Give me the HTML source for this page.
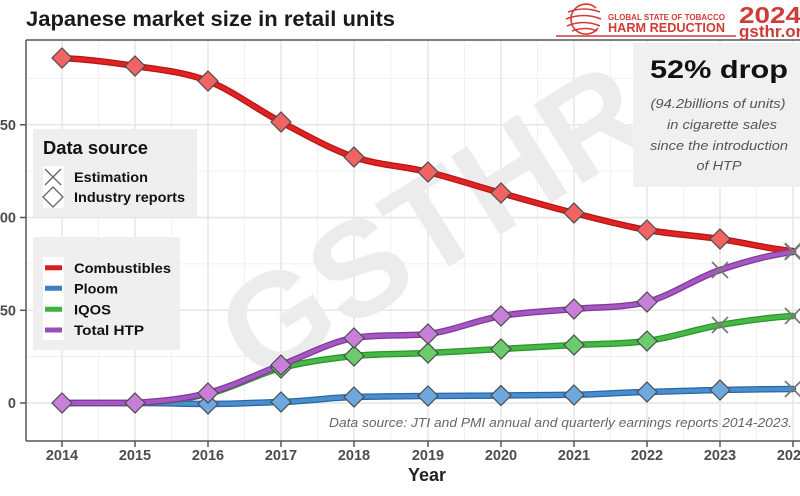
<!DOCTYPE html>
<html><head><meta charset="utf-8"><style>
html,body{margin:0;padding:0;background:#fff;}
svg{display:block;font-family:"Liberation Sans",Arial,sans-serif;}
</style></head><body>
<svg width="800" height="496" viewBox="0 0 800 496" xmlns="http://www.w3.org/2000/svg">
<rect width="800" height="496" fill="#fff"/>
<!-- grid minor -->
<g stroke="#f1f1f1" stroke-width="1">
<line x1="98.5" y1="40" x2="98.5" y2="441"/><line x1="171.5" y1="40" x2="171.5" y2="441"/><line x1="244.5" y1="40" x2="244.5" y2="441"/><line x1="317.5" y1="40" x2="317.5" y2="441"/><line x1="391" y1="40" x2="391" y2="441"/><line x1="464.5" y1="40" x2="464.5" y2="441"/><line x1="537.5" y1="40" x2="537.5" y2="441"/><line x1="610.5" y1="40" x2="610.5" y2="441"/><line x1="683.5" y1="40" x2="683.5" y2="441"/><line x1="756.5" y1="40" x2="756.5" y2="441"/>
<line x1="26" y1="356.6" x2="800" y2="356.6"/><line x1="26" y1="263.9" x2="800" y2="263.9"/><line x1="26" y1="171.1" x2="800" y2="171.1"/><line x1="26" y1="78.4" x2="800" y2="78.4"/>
</g>
<!-- grid major -->
<g stroke="#e4e4e4" stroke-width="1.4">
<line x1="62" y1="40" x2="62" y2="441"/><line x1="135" y1="40" x2="135" y2="441"/><line x1="208" y1="40" x2="208" y2="441"/><line x1="281" y1="40" x2="281" y2="441"/><line x1="354" y1="40" x2="354" y2="441"/><line x1="428" y1="40" x2="428" y2="441"/><line x1="501" y1="40" x2="501" y2="441"/><line x1="574" y1="40" x2="574" y2="441"/><line x1="647" y1="40" x2="647" y2="441"/><line x1="720" y1="40" x2="720" y2="441"/><line x1="793" y1="40" x2="793" y2="441"/>
<line x1="26" y1="403" x2="800" y2="403"/><line x1="26" y1="310.3" x2="800" y2="310.3"/><line x1="26" y1="217.5" x2="800" y2="217.5"/><line x1="26" y1="124.8" x2="800" y2="124.8"/>
</g>
<!-- watermark -->
<text transform="translate(432,221) rotate(-32)" x="0" y="48" text-anchor="middle" font-size="135" font-weight="bold" fill="#ececec">GSTHR</text>

<!-- annotation box -->
<rect x="633" y="43" width="167" height="144" fill="#f0f0f0"/>
<text x="719" y="78" text-anchor="middle" font-size="25" font-weight="bold" fill="#111" textLength="138" lengthAdjust="spacingAndGlyphs">52% drop</text>
<g font-size="12.5" font-style="italic" fill="#555" text-anchor="middle">
<text x="718" y="108" textLength="135" lengthAdjust="spacingAndGlyphs">(94.2billions of units)</text>
<text x="722" y="129" textLength="110" lengthAdjust="spacingAndGlyphs">in cigarette sales</text>
<text x="719" y="150" textLength="138" lengthAdjust="spacingAndGlyphs">since the introduction</text>
<text x="719" y="170" textLength="45" lengthAdjust="spacingAndGlyphs">of HTP</text>
</g>

<!-- legend 1 -->
<rect x="33" y="129" width="164" height="88" fill="#efefef"/>
<text x="43" y="154" font-size="18" font-weight="bold" fill="#111" textLength="105" lengthAdjust="spacingAndGlyphs">Data source</text>
<rect x="43" y="166" width="21" height="42" fill="#fff"/>
<g stroke="#666" stroke-width="1.3" fill="none">
<line x1="45" y1="169" x2="61" y2="185"/><line x1="61" y1="169" x2="45" y2="185"/>
<polygon points="53,187 63,197 53,207 43,197" fill="#fff"/>
</g>
<g font-size="14" font-weight="bold" fill="#111">
<text x="74" y="182" textLength="74" lengthAdjust="spacingAndGlyphs">Estimation</text>
<text x="74" y="202" textLength="111" lengthAdjust="spacingAndGlyphs">Industry reports</text>
</g>

<!-- legend 2 -->
<rect x="33" y="237" width="147" height="113" fill="#efefef"/>
<rect x="43" y="257" width="21" height="83" fill="#fff"/>
<g stroke-width="5" stroke-linecap="butt">
<line x1="45" y1="267.7" x2="62" y2="267.7" stroke="#d81e1e"/>
<line x1="45" y1="288.3" x2="62" y2="288.3" stroke="#3f7fbf"/>
<line x1="45" y1="309.3" x2="62" y2="309.3" stroke="#3db23d"/>
<line x1="45" y1="330" x2="62" y2="330" stroke="#9a4db5"/>
</g>
<g font-size="14" font-weight="bold" fill="#111">
<text x="74" y="273" textLength="97" lengthAdjust="spacingAndGlyphs">Combustibles</text>
<text x="74" y="293.5" textLength="44" lengthAdjust="spacingAndGlyphs">Ploom</text>
<text x="74" y="314.5" textLength="37" lengthAdjust="spacingAndGlyphs">IQOS</text>
<text x="74" y="335" textLength="70" lengthAdjust="spacingAndGlyphs">Total HTP</text>
</g>

<!-- data note -->
<text x="792" y="427" text-anchor="end" font-size="12.5" font-style="italic" fill="#666" textLength="463" lengthAdjust="spacingAndGlyphs">Data source: JTI and PMI annual and quarterly earnings reports 2014-2023.</text>

<!-- series lines -->
<g fill="none" stroke-linecap="round" stroke-linejoin="round">
<path d="M62,58 C86.4,59.3 110.6,62.2 135,66 C159.4,69.8 183.6,71.7 208,81 C232.4,90.3 256.6,109.3 281,122 C305.4,134.7 329.6,148.7 354,157 C378.4,165.3 403.6,166 428,172 C452.4,178 476.6,186.2 501,193 C525.4,199.8 549.6,206.8 574,213 C598.4,219.2 622.6,225.7 647,230 C671.4,234.3 695.6,235.5 720,239 C744.4,242.5 768.6,249 793,251" stroke="#b51515" stroke-width="6.5"/>
<path d="M62,58 C86.4,59.3 110.6,62.2 135,66 C159.4,69.8 183.6,71.7 208,81 C232.4,90.3 256.6,109.3 281,122 C305.4,134.7 329.6,148.7 354,157 C378.4,165.3 403.6,166 428,172 C452.4,178 476.6,186.2 501,193 C525.4,199.8 549.6,206.8 574,213 C598.4,219.2 622.6,225.7 647,230 C671.4,234.3 695.6,235.5 720,239 C744.4,242.5 768.6,249 793,251" stroke="#e02222" stroke-width="4"/>

<path d="M62,403 L135,403 C170,403 180,404 208,404 C240,404 255,402.5 281,402 C310,401 330,397.5 354,397 C380,396.5 400,396 428,396 C460,396 480,395.8 501,395.5 C530,395.2 550,395 574,394.8 C600,394.5 620,392.5 647,392 C680,391.2 700,390.3 720,390 C750,389.6 770,389 793,389" stroke="#2b66a3" stroke-width="6.5"/>
<path d="M62,403 L135,403 C170,403 180,404 208,404 C240,404 255,402.5 281,402 C310,401 330,397.5 354,397 C380,396.5 400,396 428,396 C460,396 480,395.8 501,395.5 C530,395.2 550,395 574,394.8 C600,394.5 620,392.5 647,392 C680,391.2 700,390.3 720,390 C750,389.6 770,389 793,389" stroke="#4a8ed0" stroke-width="4"/>

<path d="M62,403 C86.4,403 110.6,403 135,403 C159.4,401.5 183.6,399.8 208,394 C232.4,388.2 256.6,374.3 281,368 C305.4,361.7 329.6,358.5 354,356 C378.4,353.5 403.6,354.2 428,353 C452.4,351.8 476.6,350.3 501,349 C525.4,347.7 549.6,346.3 574,345 C598.4,343.7 622.6,344.3 647,341 C671.4,337.7 695.6,329.2 720,325 C744.4,320.8 768.6,317.5 793,316" stroke="#2d942d" stroke-width="6.5"/>
<path d="M62,403 C86.4,403 110.6,403 135,403 C159.4,401.5 183.6,399.8 208,394 C232.4,388.2 256.6,374.3 281,368 C305.4,361.7 329.6,358.5 354,356 C378.4,353.5 403.6,354.2 428,353 C452.4,351.8 476.6,350.3 501,349 C525.4,347.7 549.6,346.3 574,345 C598.4,343.7 622.6,344.3 647,341 C671.4,337.7 695.6,329.2 720,325 C744.4,320.8 768.6,317.5 793,316" stroke="#45b845" stroke-width="4"/>

<path d="M62,403 C86.4,403 110.6,403 135,403 C159.4,401.3 183.6,399.3 208,393 C232.4,386.7 256.6,374.2 281,365 C305.4,355.8 329.6,342 354,338 C378.4,334 403.6,336.5 428,334 C452.4,331 476.6,320.2 501,316 C525.4,311.8 549.6,311.3 574,309 C598.4,306.7 622.6,308 647,302 C671.4,295.5 695.6,278.3 720,270 C744.4,261.7 768.6,255 793,252" stroke="#7f3a99" stroke-width="6.5"/>
<path d="M62,403 C86.4,403 110.6,403 135,403 C159.4,401.3 183.6,399.3 208,393 C232.4,386.7 256.6,374.2 281,365 C305.4,355.8 329.6,342 354,338 C378.4,334 403.6,336.5 428,334 C452.4,331 476.6,320.2 501,316 C525.4,311.8 549.6,311.3 574,309 C598.4,306.7 622.6,308 647,302 C671.4,295.5 695.6,278.3 720,270 C744.4,261.7 768.6,255 793,252" stroke="#a557c2" stroke-width="4"/>
</g>

<!-- markers -->
<g stroke="#4a4a4a" stroke-width="1.2">
<!-- combustibles -->
<g fill="#f26464">
<polygon points="62,48 72,58 62,68 52,58"/><polygon points="135,56 145,66 135,76 125,66"/><polygon points="208,71 218,81 208,91 198,81"/><polygon points="281,112 291,122 281,132 271,122"/><polygon points="354,147 364,157 354,167 344,157"/><polygon points="428,162 438,172 428,182 418,172"/><polygon points="501,183 511,193 501,203 491,193"/><polygon points="574,203 584,213 574,223 564,213"/><polygon points="647,220 657,230 647,240 637,230"/><polygon points="720,229 730,239 720,249 710,239"/>
</g>
<!-- ploom -->
<g fill="#6ea8e0">
<polygon points="208,394 218,404 208,414 198,404"/><polygon points="281,392 291,402 281,412 271,402"/><polygon points="354,387 364,397 354,407 344,397"/><polygon points="428,386 438,396 428,406 418,396"/><polygon points="501,385.5 511,395.5 501,405.5 491,395.5"/><polygon points="574,385 584,395 574,405 564,395"/><polygon points="647,382 657,392 647,402 637,392"/><polygon points="720,380 730,390 720,400 710,390"/>
</g>
<!-- iqos -->
<g fill="#6bcc6b">
<polygon points="281,358 291,368 281,378 271,368"/><polygon points="354,346 364,356 354,366 344,356"/><polygon points="428,343 438,353 428,363 418,353"/><polygon points="501,339 511,349 501,359 491,349"/><polygon points="574,335 584,345 574,355 564,345"/><polygon points="647,331 657,341 647,351 637,341"/>
</g>
<!-- htp -->
<g fill="#c77fd9">
<polygon points="62,393 72,403 62,413 52,403"/><polygon points="135,393 145,403 135,413 125,403"/><polygon points="208,383 218,393 208,403 198,393"/><polygon points="281,355 291,365 281,375 271,365"/><polygon points="354,328 364,338 354,348 344,338"/><polygon points="428,324 438,334 428,344 418,334"/><polygon points="501,306 511,316 501,326 491,316"/><polygon points="574,299 584,309 574,319 564,309"/><polygon points="647,292 657,302 647,312 637,302"/>
</g>
</g>
<!-- X markers -->
<g stroke="#7a7a7a" stroke-width="1.8">
<path d="M785,243 L801,259 M801,243 L785,259"/>
<path d="M785,381 L801,397 M801,381 L785,397"/>
<path d="M712,317 L728,333 M728,317 L712,333"/>
<path d="M785,308 L801,324 M801,308 L785,324"/>
<path d="M712,262 L728,278 M728,262 L712,278"/>
<path d="M785,244 L801,260 M801,244 L785,260"/>
</g>

<!-- axes -->
<g stroke="#555" stroke-width="1.5">
<line x1="26" y1="40" x2="800" y2="40"/>
<line x1="26" y1="40" x2="26" y2="441"/>
<line x1="26" y1="441" x2="800" y2="441"/>
<line x1="20" y1="403" x2="26" y2="403"/><line x1="20" y1="310.3" x2="26" y2="310.3"/><line x1="20" y1="217.5" x2="26" y2="217.5"/><line x1="20" y1="124.8" x2="26" y2="124.8"/>
<line x1="62" y1="441" x2="62" y2="447"/><line x1="135" y1="441" x2="135" y2="447"/><line x1="208" y1="441" x2="208" y2="447"/><line x1="281" y1="441" x2="281" y2="447"/><line x1="354" y1="441" x2="354" y2="447"/><line x1="428" y1="441" x2="428" y2="447"/><line x1="501" y1="441" x2="501" y2="447"/><line x1="574" y1="441" x2="574" y2="447"/><line x1="647" y1="441" x2="647" y2="447"/><line x1="720" y1="441" x2="720" y2="447"/><line x1="793" y1="441" x2="793" y2="447"/>
</g>
<g font-size="14.5" font-weight="bold" fill="#4d4d4d" text-anchor="end">
<text x="16" y="408">0</text><text x="16" y="315.5">50</text><text x="16" y="222.5">100</text><text x="16" y="130">150</text>
</g>
<g font-size="14.5" font-weight="bold" fill="#4d4d4d" text-anchor="middle">
<text x="62" y="460">2014</text><text x="135" y="460">2015</text><text x="208" y="460">2016</text><text x="281" y="460">2017</text><text x="354" y="460">2018</text><text x="428" y="460">2019</text><text x="501" y="460">2020</text><text x="574" y="460">2021</text><text x="647" y="460">2022</text><text x="720" y="460">2023</text><text x="793" y="460">2024</text>
</g>
<text x="427" y="481" text-anchor="middle" font-size="18" font-weight="bold" fill="#222">Year</text>

<!-- title -->
<text x="26" y="26" font-size="21" font-weight="bold" fill="#1a1a1a" textLength="369" lengthAdjust="spacingAndGlyphs">Japanese market size in retail units</text>

<!-- logo -->
<g fill="none" stroke="#cf3b36" stroke-width="1.6">
<path d="M596,8 A15,15 0 1,0 598,28"/>
<path d="M568,12 Q584,6 600,12"/>
<path d="M566,19 Q584,12 601,19"/>
<path d="M567,26 Q584,19 600,26"/>
<path d="M572,31 Q586,26 597,31"/>
</g>
<line x1="556" y1="36" x2="736" y2="36" stroke="#cf3b36" stroke-width="1.5"/>
<text x="608" y="20" font-size="8" font-weight="bold" fill="#cf3b36" textLength="117" lengthAdjust="spacingAndGlyphs">GLOBAL STATE OF TOBACCO</text>
<text x="608" y="32" font-size="12.5" font-weight="bold" fill="#cf3b36" textLength="117" lengthAdjust="spacingAndGlyphs">HARM REDUCTION</text>
<text x="739" y="23" font-size="23" font-weight="bold" fill="#cf3b36" textLength="62" lengthAdjust="spacingAndGlyphs">2024</text>
<text x="739" y="37" font-size="17" font-weight="bold" fill="#cf3b36">gsthr.org</text>
</svg>
</body></html>
